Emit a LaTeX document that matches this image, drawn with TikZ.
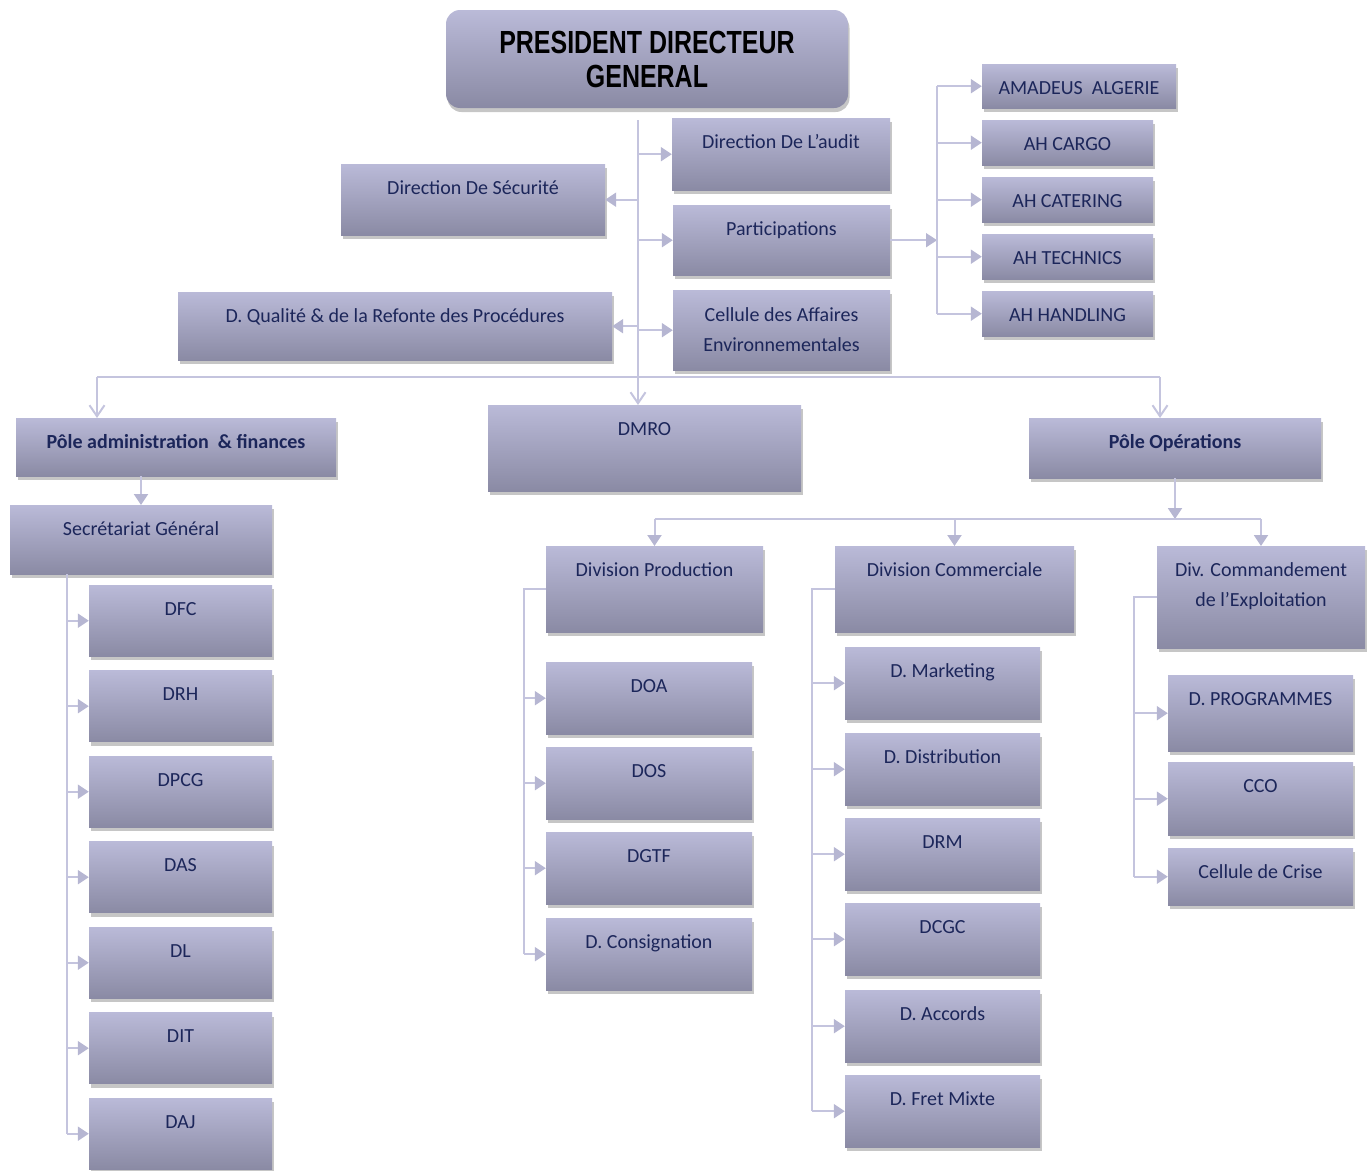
\documentclass[tikz,border=0pt]{standalone}
\usepackage{fontspec}
\setmainfont{Carlito}
\newfontfamily\titlefont[FakeStretch=0.78]{Liberation Sans}
\usepackage{tikz}
\usetikzlibrary{arrows.meta,shadows}

\definecolor{boxtop}{RGB}{186,186,216}
\definecolor{boxbot}{RGB}{138,138,164}
\definecolor{boxtxt}{RGB}{28,38,90}
\definecolor{linkc}{RGB}{196,196,222}
\definecolor{linktip}{RGB}{182,182,210}

\tikzset{
  boxbase/.style={rectangle, draw=none, top color=boxtop, bottom color=boxbot, text=boxtxt,
    font=\fontsize{20}{30}\selectfont,
    drop shadow={shadow xshift=1.5pt, shadow yshift=-4pt, fill=black!50, opacity=0.45}},
  box/.style={boxbase, anchor=north, inner xsep=0pt, inner ysep=0pt, text height=30pt, text depth=#1pt},
  pdgbox/.style={boxbase, rounded corners=14pt, text=black, align=center,
    font=\titlefont\bfseries\fontsize{32}{34}\selectfont},
  boldtxt/.style={font=\bfseries\fontsize{20}{30}\selectfont},
  link/.style={draw=linkc, line width=2pt},
  tip/.style={-{Triangle[width=14pt,length=11pt,color=linktip]}},
  barb/.style={-{Straight Barb[width=15pt,length=11pt]}}
}

\begin{document}
\begin{tikzpicture}[x=1pt,y=-1pt]
\useasboundingbox (0,0) rectangle (1372,1170);

% direction generale
\node[pdgbox, minimum width=402pt, minimum height=98pt] (pdg) at (647,59) {PRESIDENT DIRECTEUR\\GENERAL};
\node[box=42, minimum width=218pt] (audit) at (781,118) {Direction De L’audit};
\node[box=41, minimum width=264pt] (secu) at (473,164) {Direction De Sécurité};
\node[box=40, minimum width=217pt] (part) at (781.5,205) {Participations};
\node[box=38, minimum width=434pt] (qual) at (395,292) {D. Qualité \& de la Refonte des Procédures};
\node[box=49, minimum width=217pt, text height=31pt] (cell) at (781.5,290) {\parbox[t]{217pt}{\centering Cellule des Affaires\\Environnementales}};

% filiales
\node[box=14, minimum width=194pt] (amadeus) at (1079,64) {AMADEUS\ \ ALGERIE};
\foreach \n/\t/\y in {cargo/AH CARGO/120, catering/AH CATERING/177, technics/AH TECHNICS/234, handling/AH HANDLING/291}
  \node[box=15, minimum width=171pt] (\n) at (1067.5,\y) {\t};

% poles
\node[box=28, minimum width=320pt, boldtxt] (admin) at (176,418) {Pôle administration\ \ \& finances};
\node[box=56, minimum width=313pt] (dmro) at (644.5,405) {DMRO};
\node[box=30, minimum width=292pt, boldtxt] (ops) at (1175,418) {Pôle Opérations};
\node[box=39, minimum width=262pt] (secr) at (141,505) {Secrétariat Général};

% secretariat general
\foreach \n/\t [count=\i from 0] in {dfc/DFC, drh/DRH, dpcg/DPCG, das/DAS, dl/DL, dit/DIT, daj/DAJ}
  \node[box=41, minimum width=183pt] (\n) at (180.5,585+85.5*\i) {\t};

% divisions
\node[box=56, minimum width=217pt] (prod) at (654.5,546) {Division Production};
\node[box=56, minimum width=239pt] (comm) at (954.5,546) {Division Commerciale};
\node[box=72, minimum width=208pt] (cmd) at (1261,546) {\parbox[t]{208pt}{\centering Div. Commandement\\de l’Exploitation}};

\foreach \n/\t/\y in {doa/DOA/662, dos/DOS/747, dgtf/DGTF/832, cons/D. Consignation/918}
  \node[box=42, minimum width=206pt] (\n) at (649,\y) {\t};
\foreach \n/\t/\y in {mkt/D. Marketing/647, dist/D. Distribution/733, drm/DRM/818, dcgc/DCGC/903, acc/D. Accords/990, fret/D. Fret Mixte/1075}
  \node[box=42, minimum width=195pt] (\n) at (942.5,\y) {\t};
\node[box=46, minimum width=185pt] (prog) at (1260.5,675) {D. PROGRAMMES};
\node[box=43, minimum width=185pt] (cco) at (1260.5,762) {CCO};
\node[box=27, minimum width=185pt] (crise) at (1260.5,848) {Cellule de Crise};

% liaisons
\coordinate (trunk) at (638,120);
\coordinate (barL) at (97,377);
\coordinate (barR) at (1160,377);
\coordinate (bar2) at (0,519);
\coordinate (sgx) at (67,0);
\coordinate (px) at (524,0);
\coordinate (cmx) at (812,0);
\coordinate (ex) at (1134,0);
\coordinate (fx) at (937,0);

\draw[link,barb] (trunk) -- (trunk |- dmro.north);
\foreach \n in {audit,part,cell} \draw[link,tip] (trunk |- \n.west) -- (\n.west);
\foreach \n in {secu,qual} \draw[link,tip] (trunk |- \n.east) -- (\n.east);
\draw[link] (barL) -- (barR);
\draw[link,barb] (barL) -- (barL |- admin.north);
\draw[link,barb] (barR) -- (barR |- ops.north);

\draw[link,tip] (part.east) -- (fx |- part.east);
\draw[link] (fx |- amadeus.west) -- (fx |- handling.west);
\foreach \n in {amadeus,cargo,catering,technics,handling} \draw[link,tip] (fx |- \n.west) -- (\n.west);

\draw[link,tip] (admin.south -| secr.north) -- (secr.north);
\draw[link] (secr.south -| sgx) -- (sgx |- daj.west);
\foreach \n in {dfc,drh,dpcg,das,dl,dit,daj} \draw[link,tip] (sgx |- \n.west) -- (\n.west);

\draw[link,tip] (ops.south) -- (ops.south |- bar2);
\draw[link] (prod.north |- bar2) -- (cmd.north |- bar2);
\foreach \n in {prod,comm,cmd} \draw[link,tip] (\n.north |- bar2) -- (\n.north);

\draw[link] (prod.west) -| (px |- cons.west);
\foreach \n in {doa,dos,dgtf,cons} \draw[link,tip] (px |- \n.west) -- (\n.west);
\draw[link] (comm.west) -| (cmx |- fret.west);
\foreach \n in {mkt,dist,drm,dcgc,acc,fret} \draw[link,tip] (cmx |- \n.west) -- (\n.west);
\draw[link] (cmd.west) -| (ex |- crise.west);
\foreach \n in {prog,cco,crise} \draw[link,tip] (ex |- \n.west) -- (\n.west);
\end{tikzpicture}
\end{document}
